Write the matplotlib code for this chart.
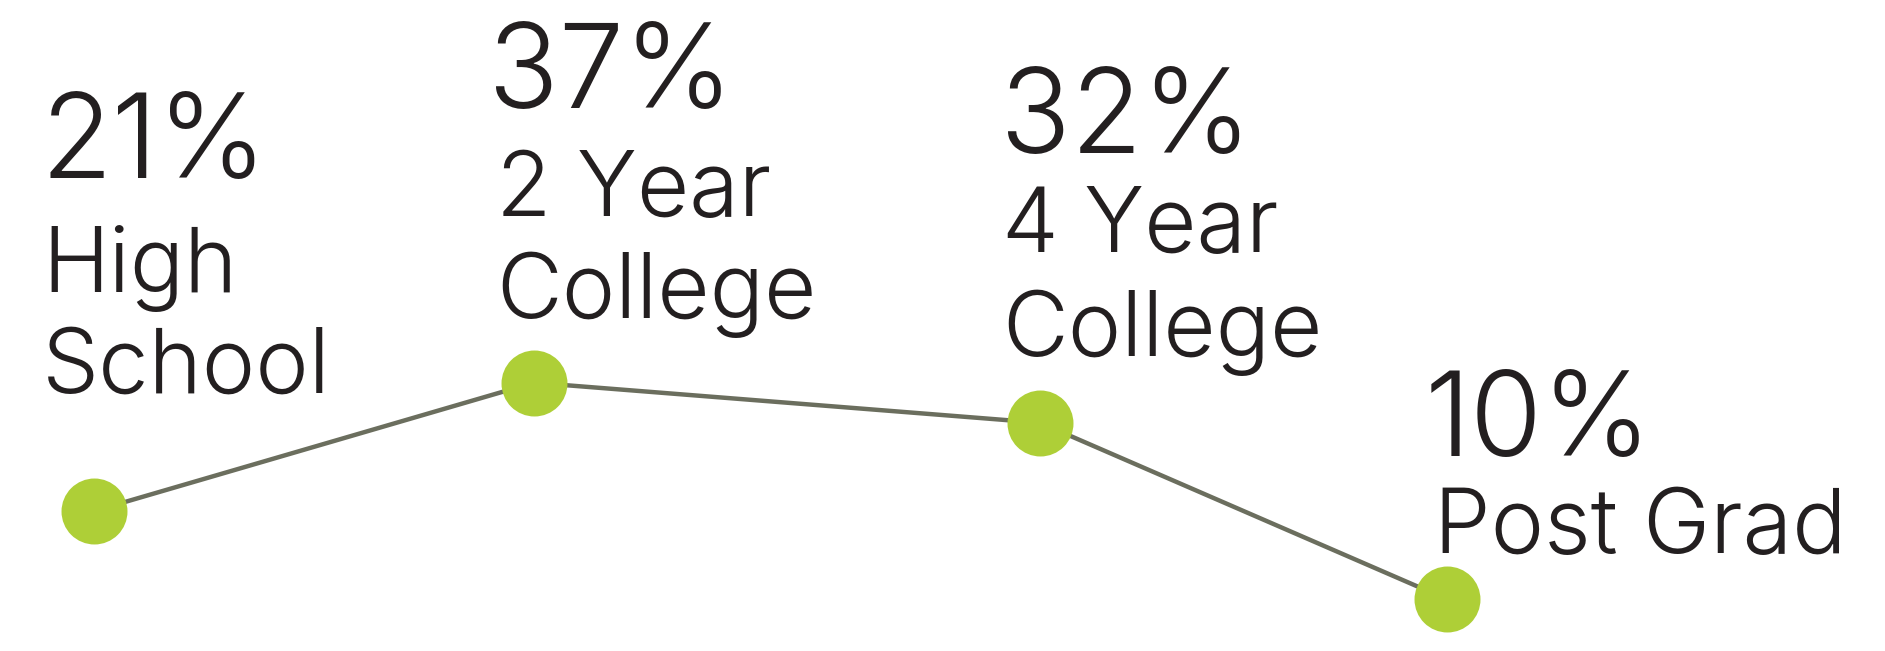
import matplotlib
matplotlib.use("Agg")
import matplotlib.pyplot as plt

# education level shares
levels = ["High\nSchool", "2 Year\nCollege", "4 Year\nCollege", "Post Grad"]
shares = [21, 37, 32, 10]

W, H = 1885, 651
GREEN = "#aecf37"
LINE = "#6b6e5e"
INK = "#231f20"
FONT = "Inter"

fig = plt.figure(figsize=(W / 100, H / 100), dpi=100)
ax = fig.add_axes([0, 0, 1, 1])

# horizontal placement of each category (pixels across the figure)
xpos = [94, 534, 1040, 1447]

ax.plot(xpos, shares, color=LINE, lw=3.2, zorder=1, solid_capstyle="butt")
ax.plot(xpos, shares, "o", ms=47.5, color=GREEN, mec="none", zorder=2)

ax.set_xlim(0, W)
ax.set_ylim(3.55, 84.7)
ax.axis("off")

# label blocks: left of percentage, baseline of percentage,
# left of name lines, baselines of name lines
blocks = [
    (40, 178, 42, [292, 393]),
    (488, 108, 496, [216, 318]),
    (1000, 153, 1002, [252, 356]),
    (1425, 456, 1434, [553]),
]

for (left, pct_base, name_left, name_bases), name, v in zip(blocks, levels, shares):
    fig.text(left / W, 1 - pct_base / H, f"{v}%", ha="left", va="baseline",
             fontsize=84, color=INK, family=FONT, weight=300)
    for line, base in zip(name.split("\n"), name_bases):
        fig.text(name_left / W, 1 - base / H, line, ha="left", va="baseline",
                 fontsize=65, color=INK, family=FONT, weight=300)

fig.savefig("out.png", dpi=100, facecolor="white")
